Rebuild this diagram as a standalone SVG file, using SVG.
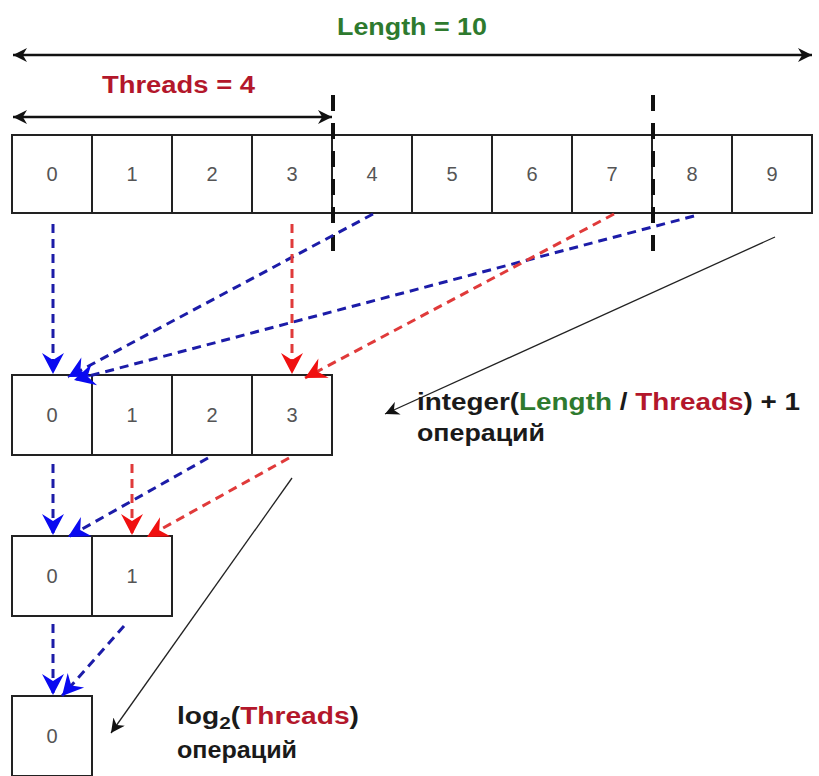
<svg xmlns="http://www.w3.org/2000/svg" width="819" height="776" viewBox="0 0 819 776">
<defs>
<style>
.cell{fill:#fff;stroke:#222;stroke-width:2}
.num{font-family:"Liberation Sans",Arial,sans-serif;font-size:20px;fill:#555;text-anchor:middle}
.lbl{font-family:"Liberation Sans",Arial,sans-serif;font-size:23px;font-weight:bold;fill:#1a1a1a}
.g{fill:#2e7a2e}
.r{fill:#b3172b}
.blue{stroke:#1c1ca8;stroke-width:3;stroke-dasharray:9 6;fill:none}
.red{stroke:#e03a3a;stroke-width:3;stroke-dasharray:9 6;fill:none}
.div{stroke:#111;stroke-width:4;stroke-dasharray:16 12;fill:none}
.thin{stroke:#222;stroke-width:1.3;fill:none}
.dim{stroke:#111;stroke-width:2.5;fill:none}
</style>
<marker id="mb" viewBox="-22 -12 22 24" refX="0" refY="0" markerWidth="22" markerHeight="24" markerUnits="userSpaceOnUse" orient="auto">
<path d="M0,0 L-21,-11 L-14,0 L-21,11 Z" fill="#0a0af0"/>
</marker>
<marker id="mr" viewBox="-22 -12 22 24" refX="0" refY="0" markerWidth="22" markerHeight="24" markerUnits="userSpaceOnUse" orient="auto">
<path d="M0,0 L-21,-11 L-14,0 L-21,11 Z" fill="#f01010"/>
</marker>
<marker id="mk" viewBox="0 0 10 10" refX="10" refY="5" markerWidth="14" markerHeight="14" markerUnits="userSpaceOnUse" orient="auto">
<path d="M0,0 L10,5 L0,10 L3,5 Z" fill="#111"/>
</marker>
<marker id="mks" viewBox="0 0 10 10" refX="0" refY="5" markerWidth="14" markerHeight="14" markerUnits="userSpaceOnUse" orient="auto">
<path d="M10,0 L0,5 L10,10 L7,5 Z" fill="#111"/>
</marker>
</defs>

<g id="length-dim">
<line class="dim" x1="13" y1="55" x2="812" y2="55" marker-start="url(#mks)" marker-end="url(#mk)"/>
<text class="lbl g" x="337" y="35" textLength="150" lengthAdjust="spacingAndGlyphs">Length = 10</text>
</g>
<g id="threads-dim">
<line class="dim" x1="13" y1="117" x2="332" y2="117" marker-start="url(#mks)" marker-end="url(#mk)"/>
<text class="lbl r" x="102" y="93" textLength="153" lengthAdjust="spacingAndGlyphs">Threads = 4</text>
</g>

<g id="array-top">
<rect class="cell" x="12" y="135" width="80" height="78"/><text class="num" x="52" y="181">0</text>
<rect class="cell" x="92" y="135" width="80" height="78"/><text class="num" x="132" y="181">1</text>
<rect class="cell" x="172" y="135" width="80" height="78"/><text class="num" x="212" y="181">2</text>
<rect class="cell" x="252" y="135" width="80" height="78"/><text class="num" x="292" y="181">3</text>
<rect class="cell" x="332" y="135" width="80" height="78"/><text class="num" x="372" y="181">4</text>
<rect class="cell" x="412" y="135" width="80" height="78"/><text class="num" x="452" y="181">5</text>
<rect class="cell" x="492" y="135" width="80" height="78"/><text class="num" x="532" y="181">6</text>
<rect class="cell" x="572" y="135" width="80" height="78"/><text class="num" x="612" y="181">7</text>
<rect class="cell" x="652" y="135" width="80" height="78"/><text class="num" x="692" y="181">8</text>
<rect class="cell" x="732" y="135" width="80" height="78"/><text class="num" x="772" y="181">9</text>
</g>

<g id="array-4">
<rect class="cell" x="12" y="375" width="80" height="80"/><text class="num" x="52" y="422">0</text>
<rect class="cell" x="92" y="375" width="80" height="80"/><text class="num" x="132" y="422">1</text>
<rect class="cell" x="172" y="375" width="80" height="80"/><text class="num" x="212" y="422">2</text>
<rect class="cell" x="252" y="375" width="80" height="80"/><text class="num" x="292" y="422">3</text>
</g>

<g id="array-2">
<rect class="cell" x="12" y="536" width="80" height="80"/><text class="num" x="52" y="583">0</text>
<rect class="cell" x="92" y="536" width="80" height="80"/><text class="num" x="132" y="583">1</text>
</g>

<g id="array-1">
<rect class="cell" x="12" y="696" width="80" height="80"/><text class="num" x="52" y="743">0</text>
</g>

<g id="dividers">
<line class="div" x1="333" y1="95" x2="333" y2="258"/>
<line class="div" x1="653" y1="95" x2="653" y2="258"/>
</g>

<g id="connectors">
<line class="blue" x1="53" y1="224" x2="53" y2="374" marker-end="url(#mb)"/>
<line class="blue" x1="373" y1="214" x2="68" y2="377" marker-end="url(#mb)"/>
<line class="blue" x1="694" y1="216" x2="74" y2="380" marker-end="url(#mb)"/>
<line class="red" x1="292" y1="224" x2="292" y2="374" marker-end="url(#mr)"/>
<line class="red" x1="614" y1="214" x2="305" y2="378" marker-end="url(#mr)"/>

<line class="blue" x1="53" y1="464" x2="53" y2="535" marker-end="url(#mb)"/>
<line class="blue" x1="208" y1="458" x2="68" y2="537" marker-end="url(#mb)"/>
<line class="red" x1="132" y1="464" x2="132" y2="535" marker-end="url(#mr)"/>
<line class="red" x1="289" y1="458" x2="147" y2="537" marker-end="url(#mr)"/>

<line class="blue" x1="53" y1="624" x2="53" y2="695" marker-end="url(#mb)"/>
<line class="blue" x1="124" y1="626" x2="62" y2="696" marker-end="url(#mb)"/>

<line class="thin" x1="775" y1="237" x2="385" y2="414" marker-end="url(#mk)"/>
<line class="thin" x1="292" y1="478" x2="111" y2="733" marker-end="url(#mk)"/>
</g>

<g id="label-ops1">
<text class="lbl" x="417" y="410" textLength="383" lengthAdjust="spacingAndGlyphs">integer(<tspan class="g">Length</tspan> / <tspan class="r">Threads</tspan>) + 1</text>
<text class="lbl" x="417" y="441" textLength="128" lengthAdjust="spacingAndGlyphs">операций</text>
</g>
<g id="label-ops2">
<text class="lbl" x="177" y="724" textLength="182" lengthAdjust="spacingAndGlyphs">log<tspan font-size="17" dy="5">2</tspan><tspan dy="-5">(</tspan><tspan class="r">Threads</tspan>)</text>
<text class="lbl" x="177" y="758" textLength="120" lengthAdjust="spacingAndGlyphs">операций</text>
</g>
</svg>
